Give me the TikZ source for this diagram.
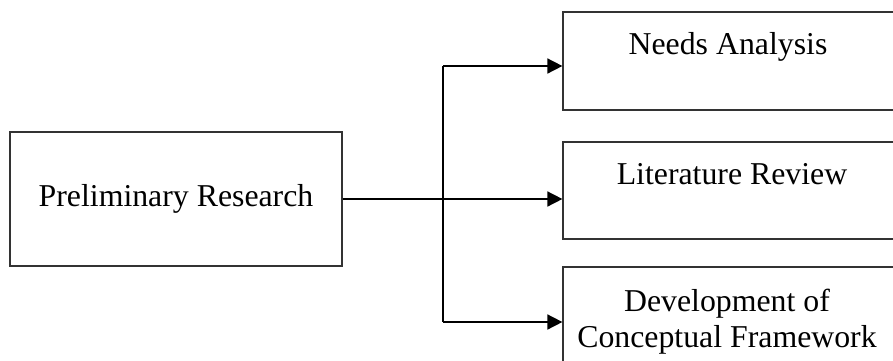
\documentclass[tikz,border=0pt]{standalone}
\usepackage{fontspec}
\setmainfont{Liberation Serif}
\usetikzlibrary{arrows.meta}
\tikzset{
  box/.style={draw=black!80, line width=1.2pt, inner sep=0pt, fill=none},
  txt/.style={font=\fontsize{31.8}{36}\selectfont, inner sep=0pt, align=center},
  conn/.style={draw=black, line width=1.6pt},
  arr/.style={conn, -{Triangle[length=15pt,width=15pt]}}
}
\begin{document}
\begin{tikzpicture}[x=1pt,y=-1pt]
\useasboundingbox (0,0) rectangle (893,360);
\clip (0,0) rectangle (893,360);
\node[box, minimum width=332pt, minimum height=134pt] (L) at (176,199) {};
\node[txt] (Lt) at (176,199) {Preliminary Research};
\node[box, minimum width=357pt, minimum height=98pt] (B1) at (741.5,61) {};
\node[txt] (B1t) at (728,47) {Needs Analysis};
\node[box, minimum width=357pt, minimum height=97pt] (B2) at (741.5,190.5) {};
\node[txt] (B2t) at (732,174) {Literature Review};
\node[box, minimum width=357pt, minimum height=113pt] (B3) at (741.5,323.5) {};
\node[txt] (B3t) at (727,322) {Development of\\Conceptual Framework};
\coordinate (T) at (443,66);
\coordinate (Bt) at (443,322);
\draw[conn] (T) -- (Bt);
\draw[arr] (L.east) -- (L.east -| B2.west);
\draw[arr] (T) -- (T -| B1.west);
\draw[arr] (Bt) -- (Bt -| B3.west);
\end{tikzpicture}
\end{document}
